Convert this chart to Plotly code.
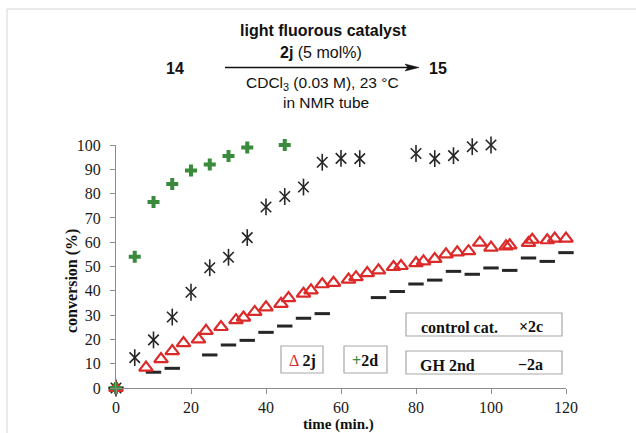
import plotly.graph_objects as go

# ---------------- data ----------------
t_2d = [0, 5, 10, 15, 20, 25, 30, 35, 45]
y_2d = [0, 54, 76.5, 84, 89.5, 92, 95.5, 99, 100]

t_2c = [0, 5, 10, 15, 20, 25, 30, 35, 40, 45, 50, 55, 60, 65, 80, 85, 90, 95, 100]
y_2c = [0, 12.5, 19.8, 29.2, 39.4, 49.5, 53.8, 61.9, 74.5, 78.8, 82.7, 92.9, 94.5, 94.4,
        96.5, 94.4, 95.6, 99.3, 100]

t_2j = [0, 8, 12, 15, 18, 22, 24, 28, 32, 34, 37, 40, 44, 46, 50, 52, 55, 58, 62, 64, 67,
        70, 74, 76, 80, 82, 85, 88, 91, 94, 97, 100, 104, 105, 110, 111, 115, 117, 120]
y_2j = [0, 8.4, 11.9, 15.2, 18.5, 20.0, 23.5, 25.1, 27.9, 29.0, 31.3, 33.2, 34.6, 37.0,
        38.8, 40.2, 42.7, 43.3, 44.6, 45.6, 47.3, 48.4, 49.8, 50.2, 51.4, 52.1, 53.1, 55.0,
        55.8, 56.3, 59.8, 57.8, 58.3, 58.7, 59.7, 61.0, 60.8, 61.5, 61.5]

t_2a = [0, 10, 15, 25, 30, 35, 40, 45, 50, 55, 70, 75, 80, 85, 90, 95, 100, 105, 110, 115, 120]
y_2a = [0, 6.5, 8.1, 13.6, 17.7, 19.6, 22.9, 25.5, 28.7, 30.6, 37.2, 39.7, 42.8, 44.4, 48.0,
        46.8, 49.4, 48.4, 53.5, 52.1, 55.7]

x_ticks = [0, 20, 40, 60, 80, 100, 120]
y_ticks = [0, 10, 20, 30, 40, 50, 60, 70, 80, 90, 100]

RED = "#dc2a2a"
GREEN = "#3a8a3c"
DARK = "#262626"
SERIF = "Liberation Serif"
SANS = "Liberation Sans"

W, H = 636, 433
L, R, T, B = 116, 70, 145, 45
PW, PH = W - L - R, H - T - B


def px(x):
    return (x - L) / PW


def py(y):
    return (H - B - y) / PH


fig = go.Figure()

fig.add_trace(go.Scatter(x=t_2a, y=y_2a, mode="markers", cliponaxis=False,
                         marker=dict(symbol="line-ew-open", size=11, color=DARK,
                                     line=dict(color=DARK, width=3))))
fig.add_trace(go.Scatter(x=t_2c, y=y_2c, mode="markers", cliponaxis=False,
                         marker=dict(symbol="x-thin-open", size=10.5, color=DARK,
                                     line=dict(color=DARK, width=1.6))))
fig.add_trace(go.Scatter(x=t_2c, y=y_2c, mode="markers", cliponaxis=False,
                         marker=dict(symbol="line-ns-open", size=12, color=DARK,
                                     line=dict(color=DARK, width=1.6))))
fig.add_trace(go.Scatter(x=t_2j, y=y_2j, mode="markers", cliponaxis=False,
                         marker=dict(symbol="triangle-up-open", size=12, color=RED,
                                     line=dict(color=RED, width=2.2))))
fig.add_trace(go.Scatter(x=t_2d, y=y_2d, mode="markers", cliponaxis=False,
                         marker=dict(symbol="cross", size=10, color=GREEN,
                                     line=dict(width=0))))

axis_common = dict(showgrid=False, zeroline=False, showline=True, linecolor="#8c8c8c",
                   linewidth=1, ticks="outside", ticklen=5, tickcolor="#8c8c8c",
                   tickfont=dict(family=SERIF, size=16, color="#1a1a1a"))

fig.update_xaxes(range=[0, 120], tickvals=x_ticks, ticktext=[str(v) for v in x_ticks],
                 **axis_common)
fig.update_yaxes(range=[0, 100], tickvals=y_ticks, ticktext=[str(v) for v in y_ticks],
                 ticklabelstandoff=6, **axis_common)

ann = []


def text(x, y, s, size, family, color="#111", xanchor="center"):
    ann.append(dict(x=px(x), y=py(y), xref="paper", yref="paper", text=s,
                    showarrow=False, xanchor=xanchor, yanchor="middle",
                    font=dict(family=family, size=size, color=color)))


# axis titles
text(338, 424, "<b>time (min.)</b>", 15, SERIF)
ann.append(dict(x=px(72), y=py(281), xref="paper", yref="paper",
                text="<b>conversion (%)</b>", textangle=-90, showarrow=False,
                xanchor="center", yanchor="middle",
                font=dict(family=SERIF, size=16, color="#111")))

# reaction scheme
text(323, 30, "<b>light fluorous catalyst</b>", 16, SANS)
text(321, 53, "<b>2j</b> (5 mol%)", 16, SANS)
text(175, 68, "<b>14</b>", 16, SANS)
text(438, 68, "<b>15</b>", 16, SANS)
text(322, 84, "CDCl<sub>3</sub> (0.03 M), 23 °C", 15.5, SANS)
text(326, 102, "in NMR tube", 15.5, SANS)

shapes = []
# reaction arrow
shapes.append(dict(type="line", xref="paper", yref="paper", x0=px(225), x1=px(410),
                   y0=py(67.5), y1=py(67.5), line=dict(color="#111", width=1.3)))
shapes.append(dict(type="path", xref="paper", yref="paper",
                   path=(f"M {px(419)},{py(67.5)} L {px(405)},{py(64)} "
                         f"L {px(408)},{py(67.5)} L {px(405)},{py(71)} Z"),
                   fillcolor="#111", line=dict(color="#111", width=0.5)))

# legend boxes
for (x0, y0, x1, y1) in [(281, 346, 323, 373), (344, 346, 387, 373),
                         (406, 313, 562, 336), (406, 351, 562, 374)]:
    shapes.append(dict(type="rect", xref="paper", yref="paper",
                       x0=px(x0), x1=px(x1), y0=py(y1), y1=py(y0),
                       line=dict(color="#a8a8a8", width=1.2), fillcolor="white"))

text(302, 361, f"<span style='color:{RED}'>Δ</span> <b>2j</b>", 16, SERIF)
text(365, 360, f"<b><span style='color:{GREEN}'>+</span>2d</b>", 16, SERIF)
text(419, 327, "<b>control cat.</b>", 16, SERIF, xanchor="left")
text(517, 326, "<b>×2c</b>", 16, SERIF, xanchor="left")
text(418, 365, "<b>GH 2nd</b>", 16, SERIF, xanchor="left")
text(516, 364, "<b>−2a</b>", 16, SERIF, xanchor="left")

# page frame
shapes.append(dict(type="line", xref="paper", yref="paper", x0=px(7), x1=px(7),
                   y0=py(433), y1=py(9), line=dict(color="#d6d6d6", width=1)))
shapes.append(dict(type="line", xref="paper", yref="paper", x0=px(7), x1=px(636),
                   y0=py(9), y1=py(9), line=dict(color="#d6d6d6", width=1)))

fig.update_layout(width=W, height=H, margin=dict(l=L, r=R, t=T, b=B),
                  paper_bgcolor="white", plot_bgcolor="white", showlegend=False,
                  annotations=ann, shapes=shapes)

fig.write_html("out.html", config={"displayModeBar": False},
               post_script="document.body.style.margin='0';"
                           "document.body.style.overflow='hidden';")
